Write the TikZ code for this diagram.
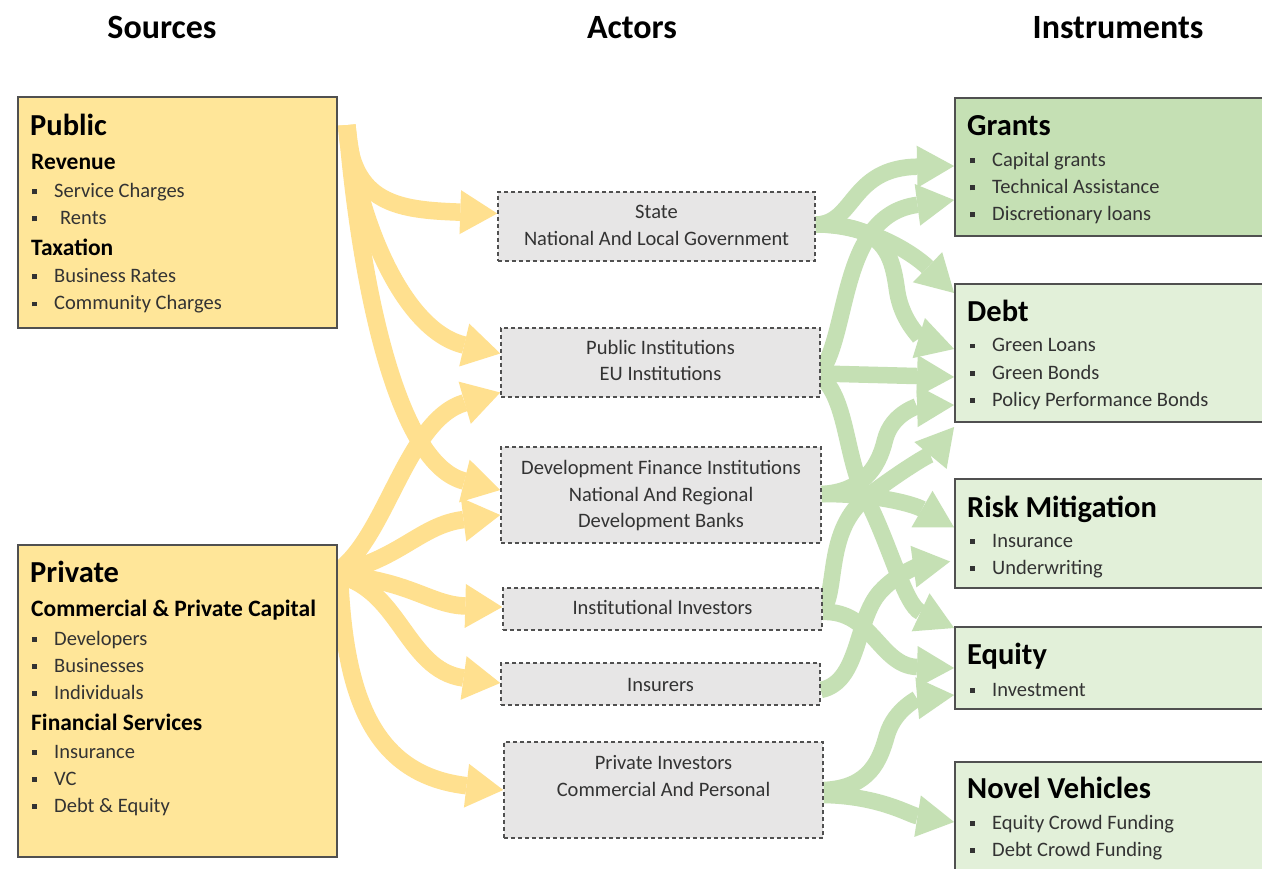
\documentclass[tikz,border=0pt]{standalone}
\usepackage{fontspec}
\setmainfont{Carlito}
\usetikzlibrary{arrows.meta,calc}
\pgfdeclarelayer{bg}
\pgfsetlayers{bg,main}
\definecolor{ybox}{HTML}{FFE699}
\definecolor{yarr}{HTML}{FFE08F}
\definecolor{gdark}{HTML}{C5E0B4}
\definecolor{glight}{HTML}{E2F0D9}
\definecolor{garr}{HTML}{C5E0B4}
\definecolor{actfill}{HTML}{E7E6E6}
\definecolor{bord}{HTML}{505050}
\definecolor{txt}{HTML}{333333}
\newcommand\bul{\rule[3.5pt]{5pt}{5pt}}
\tikzset{
  srcbox/.style={draw=bord, line width=1.8pt, fill=ybox, rectangle, inner sep=0pt},
  insbox/.style={draw=bord, line width=1.8pt, rectangle, inner sep=0pt},
  actbox/.style={draw=bord, dash pattern=on 4pt off 3pt, line width=1.5pt, fill=actfill, rectangle, inner sep=0pt},
  ttl/.style={font=\fontsize{34}{38}\selectfont\bfseries, anchor=base, inner sep=0pt},
  hdr/.style={font=\fontsize{30.5}{34}\selectfont\bfseries, anchor=base west, inner sep=0pt},
  subhd/.style={font=\fontsize{23.5}{27}\selectfont\bfseries, anchor=base west, inner sep=0pt},
  itm/.style={font=\fontsize{20.5}{24}\selectfont, text=txt, anchor=base west, inner sep=0pt},
  atx/.style={font=\fontsize{20.5}{24}\selectfont, text=txt, anchor=base, inner sep=0pt},
  yflow/.style={draw=yarr, line width=17.5pt, -{Triangle[length=37pt,width=44pt,line width=0pt]}},
  gflow/.style={draw=garr, line width=16.5pt, -{Triangle[length=37pt,width=42pt,line width=0pt]}},
}
\begin{document}
\begin{tikzpicture}[x=1pt,y=-1pt]
\useasboundingbox (0,0) rectangle (1262,869);
\clip (0,0) rectangle (1262,869);

% titles
\node[ttl] (tsrc) at (162,39) {Sources};
\node[ttl] (tact) at (632,39) {Actors};
\node[ttl] (tins) at (1118,39) {Instruments};

% sources
\node[srcbox, minimum width=319pt, minimum height=231pt] (public) at (177.5,212.5) {};
\node[hdr] (p0) at (30,136) {Public};
\node[subhd] (p1) at (31,170) {Revenue};
\node[itm] (p2) at (32,198) {\bul\hspace{17pt}Service Charges};
\node[itm] (p3) at (32,225) {\bul\hspace{23pt}Rents};
\node[subhd] (p4) at (31,256) {Taxation};
\node[itm] (p5) at (32,283) {\bul\hspace{17pt}Business Rates};
\node[itm] (p6) at (32,310) {\bul\hspace{17pt}Community Charges};

\node[srcbox, minimum width=319pt, minimum height=312pt] (private) at (177.5,701) {};
\node[hdr] (q0) at (30,582) {Private};
\node[subhd] (q1) at (31,616) {Commercial \& Private Capital};
\node[itm] (q2) at (32,645) {\bul\hspace{17pt}Developers};
\node[itm] (q3) at (32,672) {\bul\hspace{17pt}Businesses};
\node[itm] (q4) at (32,699) {\bul\hspace{17pt}Individuals};
\node[subhd] (q5) at (31,730) {Financial Services};
\node[itm] (q6) at (32,758) {\bul\hspace{17pt}Insurance};
\node[itm] (q7) at (32,785) {\bul\hspace{17pt}VC};
\node[itm] (q8) at (32,812) {\bul\hspace{17pt}Debt \& Equity};

% actors
\node[actbox, minimum width=317pt, minimum height=69pt] (state) at (656.5,226.5) {};
\node[atx] (a1) at (656.5,219) {State};
\node[atx] (a2) at (656.5,246) {National And Local Government};
\node[actbox, minimum width=319pt, minimum height=69pt] (pubinst) at (660.5,362.5) {};
\node[atx] (b1) at (660.5,354) {Public Institutions};
\node[atx] (b2) at (660.5,381) {EU Institutions};
\node[actbox, minimum width=320pt, minimum height=96pt] (dfi) at (661,495) {};
\node[atx] (c1) at (661,474) {Development Finance Institutions};
\node[atx] (c2) at (661,501) {National And Regional};
\node[atx] (c3) at (661,527) {Development Banks};
\node[actbox, minimum width=319pt, minimum height=42pt] (instinv) at (662.5,609) {};
\node[atx] (d1) at (662.5,614) {Institutional Investors};
\node[actbox, minimum width=319pt, minimum height=42pt] (insurers) at (660.5,684) {};
\node[atx] (e1) at (660.5,691) {Insurers};
\node[actbox, minimum width=319pt, minimum height=96pt] (privinv) at (663.5,790) {};
\node[atx] (f1) at (663.5,769) {Private Investors};
\node[atx] (f2) at (663.5,796) {Commercial And Personal};

% instruments
\node[insbox, fill=gdark, minimum width=320pt, minimum height=138pt] (grants) at (1115,167) {};
\node[hdr] (g0) at (967,136) {Grants};
\node[itm] (g1) at (970,167) {\bul\hspace{17pt}Capital grants};
\node[itm] (g2) at (970,194) {\bul\hspace{17pt}Technical Assistance};
\node[itm] (g3) at (970,221) {\bul\hspace{17pt}Discretionary loans};
\node[insbox, fill=glight, minimum width=320pt, minimum height=138pt] (debt) at (1115,353) {};
\node[hdr] (h0) at (967,321) {Debt};
\node[itm] (h1) at (970,352) {\bul\hspace{17pt}Green Loans};
\node[itm] (h2) at (970,379) {\bul\hspace{17pt}Green Bonds};
\node[itm] (h3) at (970,406) {\bul\hspace{17pt}Policy Performance Bonds};
\node[insbox, fill=glight, minimum width=320pt, minimum height=109pt] (risk) at (1115,533.5) {};
\node[hdr] (r0) at (967,517) {Risk Mitigation};
\node[itm] (r1) at (970,547) {\bul\hspace{17pt}Insurance};
\node[itm] (r2) at (970,574) {\bul\hspace{17pt}Underwriting};
\node[insbox, fill=glight, minimum width=320pt, minimum height=82pt] (equity) at (1115,668) {};
\node[hdr] (s0) at (967,664) {Equity};
\node[itm] (s1) at (970,696) {\bul\hspace{17pt}Investment};
\node[insbox, fill=glight, minimum width=320pt, minimum height=110pt] (novel) at (1115,817) {};
\node[hdr] (n0) at (967,798) {Novel Vehicles};
\node[itm] (n1) at (970,829) {\bul\hspace{17pt}Equity Crowd Funding};
\node[itm] (n2) at (970,856) {\bul\hspace{17pt}Debt Crowd Funding};

\begin{pgfonlayer}{bg}
\fill[white] (0,0) rectangle (1262,869);
\coordinate (pubTop) at ($(public.north east)+(9,29)$);
\coordinate (privFan) at ($(private.north east)+(-5,30)$);
% yellow flows
\draw[yflow] (pubTop) .. controls (350,205) and (400,210) .. ($(state.west)+(0,-13)$);
\draw[yflow] (pubTop) .. controls (355,210) and (400,330) .. ($(pubinst.west)+(0,-9)$);
\draw[yflow] (pubTop) .. controls (362,300) and (400,465) .. ($(dfi.west)+(0,-5)$);
\draw[yflow] (privFan) .. controls (385,545) and (405,420) .. ($(pubinst.west)+(0,30)$);
\draw[yflow] (privFan) .. controls (400,560) and (420,525) .. ($(dfi.west)+(0,20)$);
\draw[yflow] (privFan) .. controls (410,580) and (430,605) .. ($(instinv.west)+(0,-2)$);
\draw[yflow] (privFan) .. controls (400,585) and (405,670) .. ($(insurers.west)+(0,-1)$);
\draw[yflow] ($(privFan)+(7,10)$) .. controls (346,700) and (375,775) .. (privinv.west);
% green flows
\draw[gflow] ($(state.east)+(0,-2)$) .. controls (855,224) and (850,168) .. ($(grants.west)+(0,-1)$);
\draw[gflow] ($(state.east)+(0,-2)$) .. controls (870,224) and (915,255) .. ($(debt.west)+(0,-60)$);
\draw[gflow] ($(state.east)+(0,-2)$) .. controls (885,224) and (892,255) .. (897,290) .. controls (902,325) and (925,340) .. ($(debt.west)+(0,-4)$);
\draw[gflow] ($(pubinst.east)+(0,10)$) .. controls (850,330) and (840,215) .. ($(grants.west)+(0,33)$);
\draw[gflow] ($(pubinst.east)+(0,11)$) -- ($(debt.west)+(0,24)$);
\draw[gflow] ($(pubinst.east)+(0,14)$) .. controls (848,400) and (845,460) .. (867,500) .. controls (890,545) and (905,605) .. ($(equity.west)+(0,-40)$);
\draw[gflow] ($(dfi.east)+(0,-1)$) .. controls (860,492) and (878,470) .. (885,440) .. controls (892,412) and (920,406) .. ($(debt.west)+(0,52)$);
\draw[gflow] ($(dfi.east)+(0,-1)$) .. controls (880,494) and (915,505) .. ($(risk.west)+(0,-6)$);
\draw[gflow] ($(instinv.east)+(0,1)$) .. controls (838,590) and (825,530) .. (867,497) .. controls (895,475) and (935,450) .. ($(debt.west)+(0,74)$);
\draw[gflow] ($(instinv.east)+(0,3)$) .. controls (872,610) and (880,666) .. (equity.west);
\draw[gflow] ($(insurers.east)+(0,6)$) .. controls (860,682) and (855,620) .. (880,592) .. controls (900,570) and (925,565) .. ($(risk.west)+(-4,28)$);
\draw[gflow] (privinv.east) .. controls (870,788) and (880,760) .. (887,735) .. controls (895,708) and (920,698) .. ($(equity.west)+(0,27)$);
\draw[gflow] ($(privinv.east)+(0,5)$) .. controls (880,796) and (910,815) .. ($(novel.west)+(0,5)$);
\end{pgfonlayer}
\end{tikzpicture}
\end{document}
